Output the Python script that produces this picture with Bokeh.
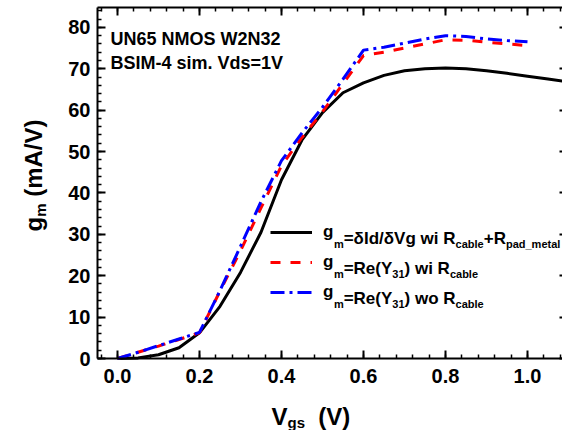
import math
from bokeh.plotting import figure
from bokeh.models import (Range1d, LinearAxis, SingleIntervalTicker, FixedTicker,
                          PrintfTickFormatter, Label, Legend, LegendItem)
from bokeh.embed import file_html
from bokeh.resources import INLINE

# ---------------- data ----------------
vgs_dc = [0.00, 0.05, 0.10, 0.15, 0.20, 0.25, 0.30, 0.35, 0.40, 0.45, 0.50, 0.55,
          0.60, 0.65, 0.70, 0.75, 0.80, 0.85, 0.90, 0.95, 1.00, 1.05, 1.10]
gm_dc = [0.0, 0.15, 0.9, 2.6, 6.2, 12.6, 20.8, 30.5, 43.2, 52.8, 59.4, 64.2,
         66.6, 68.4, 69.5, 70.0, 70.2, 70.0, 69.5, 68.9, 68.2, 67.5, 66.8]

vgs_y31 = [0.00, 0.05, 0.10, 0.15, 0.20, 0.25, 0.30, 0.35, 0.40, 0.45, 0.50,
           0.55, 0.60, 0.65, 0.70, 0.75, 0.80, 0.85, 0.90, 0.95, 1.00]
gm_y31_wi = [0.0, 1.5, 3.0, 4.6, 6.2, 16.3, 26.0, 36.4, 46.6, 53.4, 59.6,
             66.4, 73.2, 74.0, 75.0, 76.0, 77.0, 76.9, 76.4, 76.0, 75.6]
gm_y31_wo = [0.0, 1.5, 3.1, 4.7, 6.3, 16.4, 27.1, 37.9, 47.8, 54.5, 60.7,
             67.5, 74.5, 75.2, 76.2, 77.2, 78.0, 77.8, 77.2, 76.8, 76.5]

x_lo, x_hi = -0.0488, 1.0854      # plot-area extent in Vgs
y_lo, y_hi = 0.0, 84.8            # plot-area extent in gm
x_tick_step, x_minor_step = 0.2, 0.04
y_tick_step, y_minor_step = 10, 2
x_major_ticks = [0.0, 0.2, 0.4, 0.6, 0.8, 1.0]
y_major_ticks = [0, 10, 20, 30, 40, 50, 60, 70, 80]

title_lines = ["UN65 NMOS W2N32", "BSIM-4 sim. Vds=1V"]

# ---------------- layout constants (pixels) ----------------
W, H = 562, 430
AREA_L, AREA_R, AREA_T, AREA_B = 97, 562, 7, 358   # plot area inside the canvas
FONT = "Liberation Sans"

# the frame covers the whole canvas; axes are pinned to the plot-area edges
sx = (AREA_R - AREA_L) / (x_hi - x_lo)
sy = (AREA_B - AREA_T) / (y_hi - y_lo)
x_start = x_lo - AREA_L / sx
x_end = x_hi + (W - AREA_R) / sx
y_start = y_lo - (H - AREA_B) / sy
y_end = y_hi + AREA_T / sy

# Arial / Liberation Sans Bold advance widths (per 1000 em)
ADV = {' ': 278, '(': 333, ')': 333, '+': 584, '-': 333, '.': 278, '/': 278,
       '=': 584, '_': 556, 'δ': 611}
for ch in "0123456789":
    ADV[ch] = 556
ADV.update(dict(A=722, B=722, C=722, D=722, E=667, F=611, G=778, H=722, I=278, J=556,
                K=722, L=611, M=833, N=722, O=778, P=667, Q=778, R=722, S=667, T=611,
                U=722, V=667, W=944, X=667, Y=667, Z=611))
ADV.update(dict(a=556, b=611, c=556, d=611, e=556, f=333, g=611, h=611, i=278, j=278,
                k=556, l=278, m=889, n=611, o=611, p=611, q=611, r=389, s=556, t=333,
                u=611, v=556, w=778, x=556, y=556, z=500))


def text_width(s, size):
    return sum(ADV.get(c, 600) for c in s) * size / 1000.0


def fy(cy):  # canvas y (from top) -> frame screen y (from bottom)
    return H - cy


p = figure(width=W, height=H, output_backend="svg", toolbar_location=None,
           x_range=Range1d(x_start, x_end), y_range=Range1d(y_start, y_end),
           min_border=0, min_border_left=0, min_border_right=0, min_border_top=0,
           min_border_bottom=0, background_fill_color="white",
           border_fill_color="white", outline_line_color=None)
p.grid.visible = False


def style_axis(ax, tick_in=8, minor_in=4, line=True):
    ax.axis_line_width = 2
    ax.axis_line_color = "black" if line else None
    ax.major_tick_in = tick_in
    ax.major_tick_out = 0
    ax.minor_tick_in = minor_in
    ax.minor_tick_out = 0
    ax.major_tick_line_width = 2
    ax.minor_tick_line_width = 1.5
    ax.major_label_text_font = FONT
    ax.major_label_text_font_style = "bold"
    ax.major_label_text_color = "black"
    ax.major_label_text_font_size = "20px"


def minor_positions(lo, hi, step):
    n0 = math.ceil(lo / step - 1e-9)
    n1 = math.floor(hi / step + 1e-9)
    return [round(k * step, 6) for k in range(n0, n1 + 1)]


# bottom axis
xb = p.xaxis[0]
xb.ticker = SingleIntervalTicker(interval=x_tick_step, num_minor_ticks=5)
xb.formatter = PrintfTickFormatter(format="%.1f")
xb.fixed_location = y_lo
xb.bounds = (x_lo, x_hi)
style_axis(xb)
xb.major_label_standoff = 10

# left axis
yl = p.yaxis[0]
yl.ticker = SingleIntervalTicker(interval=y_tick_step, num_minor_ticks=5)
yl.formatter = PrintfTickFormatter(format="%d")
yl.fixed_location = x_lo
yl.bounds = (y_lo, y_hi)
style_axis(yl)
yl.major_label_standoff = 7

# top spine with inward ticks (no labels)
xt_major = LinearAxis(ticker=FixedTicker(ticks=[], minor_ticks=x_major_ticks),
                      fixed_location=y_hi, bounds=(x_lo, x_hi))
style_axis(xt_major, tick_in=0, minor_in=8)
xt_major.minor_tick_line_width = 2
p.add_layout(xt_major, "above")
xt_minor = LinearAxis(ticker=FixedTicker(ticks=[], minor_ticks=minor_positions(x_lo, x_hi, x_minor_step)),
                      fixed_location=y_hi, bounds=(x_lo, x_hi))
style_axis(xt_minor, tick_in=0, minor_in=4, line=False)
p.add_layout(xt_minor, "above")

# right edge: only the tips of the major ticks fall inside the picture
yr = LinearAxis(ticker=FixedTicker(ticks=[], minor_ticks=y_major_ticks),
                fixed_location=x_hi, bounds=(y_lo, y_hi))
style_axis(yr, tick_in=0, minor_in=3, line=False)
yr.minor_tick_line_width = 2
p.add_layout(yr, "right")

# ---------------- curves ----------------
r_dc = p.line(vgs_dc, gm_dc, line_color="black", line_width=3)
r_wi = p.line(vgs_y31, gm_y31_wi, line_color="#ff0000", line_width=3, line_dash="10 10")
r_wo = p.line(vgs_y31, gm_y31_wo, line_color="#0000ff", line_width=3, line_dash="14 5 3 5")

# ---------------- legend ----------------
M, S, SH = 17, 11, 6
LEG_X, LEG_ROW0, ROW_H = 270, 217, 30
BASE_DY = 5.5
legend = Legend(items=[LegendItem(label="g", renderers=[r_dc]),
                       LegendItem(label="g", renderers=[r_wi]),
                       LegendItem(label="g", renderers=[r_wo])],
                location=(LEG_X, fy(LEG_ROW0 + 3 * ROW_H)), orientation="vertical",
                glyph_width=42, glyph_height=ROW_H, label_height=ROW_H,
                label_standoff=11, label_text_font=FONT, label_text_font_style="bold",
                label_text_font_size=f"{M}px", label_text_color="black",
                label_text_baseline="middle",
                spacing=0, padding=0, margin=0,
                border_line_color=None, background_fill_alpha=0)
p.add_layout(legend, "center")


def add_runs(runs, cx, cy, angle=0.0):
    """runs: list of (text, size, baseline_shift_px); cx, cy = canvas start point."""
    pos = 0.0
    for txt, size, shift in runs:
        lead = len(txt) - len(txt.lstrip(" "))
        pos += text_width(txt[:lead], size)
        txt = txt.lstrip(" ")
        if angle == 0.0:
            x, y = cx + pos, fy(cy + shift)
        else:  # rotated 90 deg ccw: text runs upward, subscripts shift right
            x, y = cx + shift, fy(cy - pos)
        p.add_layout(Label(x=x, y=y, x_units="screen", y_units="screen", text=txt,
                           angle=angle, text_font=FONT, text_font_style="bold",
                           text_font_size=f"{size}px", text_color="black",
                           text_align="left", text_baseline="alphabetic"))
        pos += text_width(txt, size)


TXT_X = LEG_X + 42 + 11 + text_width("g", M)
for row, runs in enumerate([
        [("m", S, SH), ("=δId/δVg wi R", M, 0), ("cable", S, SH), ("+R", M, 0), ("pad_metal", S, SH)],
        [("m", S, SH), ("=Re(Y", M, 0), ("31", S, SH), (") wi R", M, 0), ("cable", S, SH)],
        [("m", S, SH), ("=Re(Y", M, 0), ("31", S, SH), (") wo R", M, 0), ("cable", S, SH)]]):
    base = LEG_ROW0 + ROW_H * row + ROW_H / 2 + BASE_DY
    add_runs(runs, TXT_X, base)

# annotation text
add_runs([(title_lines[0], 18, 0)], 110, 38)
add_runs([(title_lines[1], 18, 0)], 110, 62)

# axis titles
add_runs([("V", 24, 0), ("gs", 15, 6), ("  (V)", 24, 0)], 271, 416)
add_runs([("g", 24, 0), ("m", 15, 7), (" (mA/V)", 24, 0)], 33, 231, angle=math.pi / 2)

open("out.html", "w").write(file_html(p, INLINE))
